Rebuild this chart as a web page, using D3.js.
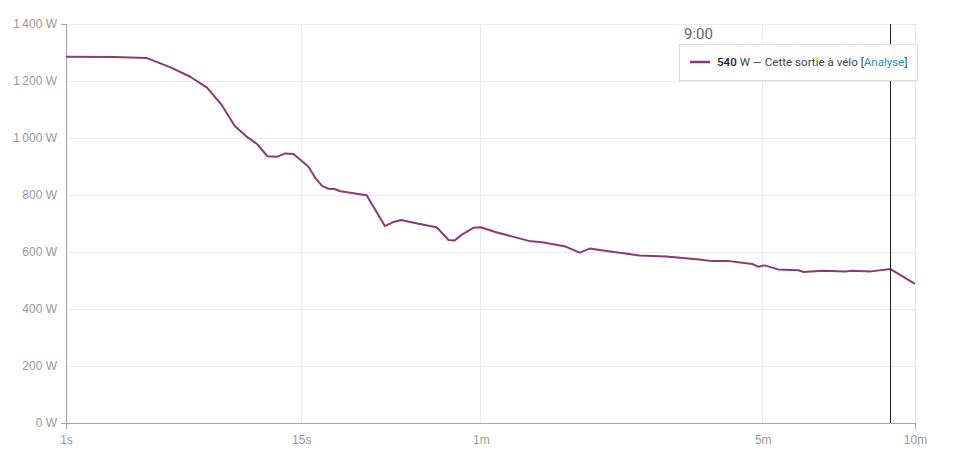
<!DOCTYPE html>
<html>
<head>
<meta charset="utf-8">
<script src="https://cdn.jsdelivr.net/npm/d3@7"></script>
<style>
  html, body { margin: 0; padding: 0; background: #fff; }
  svg { display: block; font-family: Roboto, "Noto Sans", sans-serif; }
  .axis text { fill: #999; font-size: 12px; }
  .axis path, .axis line { stroke: #a5a5a5; }
</style>
</head>
<body>
<svg id="chart" width="979" height="464"></svg>
<script>
// Durations (seconds) and best power (W)
const seconds = [1,2,3,4,5,6,7,8,9,10,11,12,13,14,16,17,18,19,20,21,26,30,32,34,38,44,45,48,50,53,57,60,66,74,82,90,103,112,119,126,158,183,218,233,254,285,294,303,323,356,365,399,442,455,496,540,600];
const watts   = [1285,1284,1281,1248,1215,1177,1116,1042,1005,978,936,934,946,944,899,859,832,822,821,813,799,691,705,712,701,687,677,642,640,663,685,687,670,654,639,633,619,598,612,607,588,584,574,568,568,558,548,553,539,536,530,534,532,534,532,540,488];
const xTicks = [1, 15, 60, 300, 600];
const xTickLabels = ["1s", "15s", "1m", "5m", "10m"];
const yTicks = [0, 200, 400, 600, 800, 1000, 1200, 1400];
const hoverTime = 540;
const hoverLabel = "9:00";
const seriesName = "Cette sortie à vélo";
const linkLabel = "Analyse";

const svg = d3.select("#chart");
const x = d3.scalePow().exponent(0.2).domain([1, 600]).range([66, 915]);
const y = d3.scaleLinear().domain([0, 1400]).range([423, 24]);

const loc = d3.formatLocale({decimal: ",", thousands: "\u2009", grouping: [3], currency: ["", " €"]});
const fmt = loc.format(",d");

// grid
svg.append("g").selectAll("line").data(yTicks.slice(1)).join("line")
  .attr("x1", x.range()[0]).attr("x2", x.range()[1] + 2)
  .attr("y1", d => y(d)).attr("y2", d => y(d))
  .attr("stroke", "#ebebeb").attr("stroke-width", 1).attr("shape-rendering", "crispEdges");
svg.append("g").selectAll("line").data(xTicks.slice(1)).join("line")
  .attr("x1", d => x(d)).attr("x2", d => x(d))
  .attr("y1", y(1400)).attr("y2", y(0))
  .attr("stroke", "#ebebeb").attr("stroke-width", 1).attr("shape-rendering", "crispEdges");

// axes
svg.append("g").attr("class", "axis").attr("transform", `translate(0,${y(0)})`)
  .call(d3.axisBottom(x).tickValues(xTicks).tickFormat((d, i) => xTickLabels[i])
    .tickSizeInner(0).tickSizeOuter(6).tickPadding(12))
  .call(g => g.selectAll("path").attr("shape-rendering", "crispEdges"));
svg.append("g").attr("class", "axis").attr("transform", `translate(${x(1)},0)`)
  .call(d3.axisLeft(y).tickValues(yTicks).tickFormat(d => fmt(d) + " W")
    .tickSizeInner(0).tickSizeOuter(5).tickPadding(9))
  .call(g => g.selectAll("path").attr("shape-rendering", "crispEdges"));

// line
const data = seconds.map((s, i) => ({s, w: watts[i]}));
svg.append("path").datum(data)
  .attr("fill", "none").attr("stroke", "#8b3a76").attr("stroke-width", 2)
  .attr("stroke-linejoin", "round")
  .attr("d", d3.line().x(d => x(d.s)).y(d => y(d.w)));

// hover line
svg.append("line")
  .attr("x1", Math.round(x(hoverTime)) + 0.5).attr("x2", Math.round(x(hoverTime)) + 0.5)
  .attr("y1", y(1400)).attr("y2", y(0))
  .attr("stroke", "#222").attr("stroke-width", 1);

// tooltip
const tx = 679, ty = 44;
svg.append("text").attr("x", tx + 5).attr("y", 39)
  .attr("fill", "#666").attr("font-size", "15px").text(hoverLabel);
svg.append("rect").attr("x", tx + 0.5).attr("y", ty + 0.5).attr("width", 238).attr("height", 36)
  .attr("fill", "#fff").attr("stroke", "#dcdcdc");
svg.append("line").attr("x1", 690).attr("x2", 710).attr("y1", 62).attr("y2", 62)
  .attr("stroke", "#8b3a76").attr("stroke-width", 2.5);
const hoverW = watts[seconds.indexOf(hoverTime)];
const t = svg.append("text").attr("x", 717).attr("y", 66).attr("font-size", "11.6px").attr("fill", "#444");
t.append("tspan").attr("font-weight", "500").attr("fill", "#222").text(hoverW);
t.append("tspan").text(" W — " + seriesName + " [");
t.append("tspan").attr("fill", "#1f8fb8").text(linkLabel);
t.append("tspan").text("]");
</script>
</body>
</html>
